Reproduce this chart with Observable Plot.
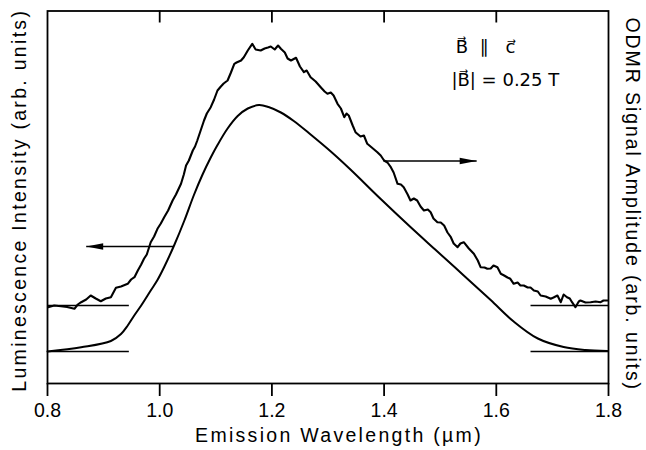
<!DOCTYPE html>
<html>
<head>
<meta charset="utf-8">
<script src="https://cdn.jsdelivr.net/npm/d3@7"></script>
<script src="https://cdn.jsdelivr.net/npm/@observablehq/plot@0.6"></script>
<style>
  html, body { margin: 0; padding: 0; background: #fff; }
  #chart svg { display: block; }
</style>
</head>
<body>
<div id="chart"></div>
<script>
// ---- data ----
const wavelengthTicks = [0.8, 1.0, 1.2, 1.4, 1.6, 1.8];

// Luminescence intensity (smooth curve), arb. units
const lumWavelength = [0.800, 0.860, 0.913, 0.931, 0.943, 0.954, 0.967, 0.984, 0.996, 1.008, 1.026, 1.044, 1.061, 1.076, 1.091, 1.103, 1.121, 1.139, 1.157, 1.177, 1.194, 1.216, 1.239, 1.269, 1.305, 1.340, 1.394, 1.447, 1.494, 1.542, 1.590, 1.631, 1.674, 1.720, 1.759, 1.798];
const lumIntensity = [0, 4.3, 10.5, 17.5, 26, 35.5, 46, 61, 71.5, 84.5, 106.5, 131, 156.5, 176.5, 194, 206.5, 223, 235.5, 243, 246.5, 244.5, 239, 230.5, 217, 200, 182, 152.5, 124.5, 100.5, 76, 51.5, 30, 13, 4.5, 1.5, 0.5];

// ODMR signal amplitude (noisy curve), arb. units
const odmrWavelength = [0.801, 0.812, 0.824, 0.835, 0.848, 0.854, 0.860, 0.869, 0.877, 0.886, 0.895, 0.904, 0.913, 0.922, 0.931, 0.943, 0.949, 0.955, 0.961, 0.967, 0.972, 0.977, 0.984, 0.990, 0.996, 1.002, 1.008, 1.015, 1.023, 1.029, 1.038, 1.043, 1.047, 1.052, 1.059, 1.063, 1.067, 1.073, 1.079, 1.084, 1.091, 1.097, 1.103, 1.109, 1.114, 1.121, 1.127, 1.133, 1.137, 1.145, 1.150, 1.157, 1.165, 1.171, 1.180, 1.187, 1.193, 1.198, 1.205, 1.211, 1.216, 1.223, 1.228, 1.234, 1.243, 1.250, 1.257, 1.262, 1.269, 1.278, 1.287, 1.294, 1.299, 1.305, 1.310, 1.317, 1.323, 1.329, 1.333, 1.337, 1.344, 1.349, 1.358, 1.364, 1.370, 1.378, 1.388, 1.394, 1.400, 1.406, 1.412, 1.417, 1.424, 1.430, 1.435, 1.442, 1.447, 1.453, 1.459, 1.465, 1.471, 1.478, 1.483, 1.488, 1.495, 1.501, 1.507, 1.513, 1.519, 1.524, 1.531, 1.536, 1.542, 1.551, 1.560, 1.567, 1.572, 1.579, 1.584, 1.590, 1.595, 1.602, 1.608, 1.614, 1.620, 1.625, 1.631, 1.638, 1.643, 1.649, 1.656, 1.661, 1.667, 1.674, 1.679, 1.688, 1.697, 1.702, 1.709, 1.715, 1.720, 1.726, 1.731, 1.735, 1.741, 1.747, 1.750, 1.759, 1.768, 1.777, 1.786, 1.791, 1.798];
const odmrSignal = [-1.7, 0, -0.7, -1.5, -3.3, 1, 3.3, 6, 10, 7, 4.3, 7, 8.3, 17.7, 19, 21.7, 26, 28.3, 35, 41, 46.7, 51, 63.3, 69, 76.7, 82, 88.3, 95, 105, 111, 121.7, 131, 140, 145, 155, 159, 165, 175, 185, 192, 198.3, 206, 215, 219, 222, 225, 233, 241.7, 243, 245, 248.3, 255, 261.7, 256, 255, 257, 258, 259, 256, 260, 256.7, 253, 247, 245, 247.7, 239, 233.3, 235, 228.3, 224, 218.3, 214, 211.7, 213, 210, 201.7, 197, 188.3, 192, 190, 180, 173.3, 169, 170, 161.7, 158, 153.3, 150, 145, 143, 138.3, 133, 121.7, 121, 118.3, 111, 105, 107, 105, 99, 95, 96, 93.3, 87, 83.3, 83, 80, 73, 68.3, 62, 58.3, 62, 63.3, 57, 51.7, 45, 38.3, 38, 36.7, 37, 40, 38.3, 31.7, 30, 28, 26.7, 21.7, 23, 20, 20, 18, 18, 15, 14, 10, 9, 6.7, 8, 10, 3.3, 11, 8.3, 7, 3.3, -1.7, 4, 5, 3, 3.3, 4, 3.3, 5, 5];

// baseline markers (start/end wavelengths of the short zero lines)
const baselineLeft = [0.8, 0.945];
const baselineRight = [1.661, 1.8];
// arrows: from/to wavelength, and level on the curve's own scale
const lumArrow = {from: 1.025, to: 0.869, level: 105};
const odmrArrow = {from: 1.399, to: 1.565, level: 144.5};

const annotationLines = ["B\u20D7\u00A0\u00A0\u2225\u00A0\u00A0\u00A0c\u20D7", "|B\u20D7| = 0.25 T"];
const annotationX = [1.5275, 1.52];
const annotationY = [304, 271];

const xLabel = "Emission Wavelength (µm)";
const yLabelLeft = "Luminescence Intensity (arb. units)";
const yLabelRight = "ODMR Signal Amplitude (arb. units)";

// ---- build ----
const odmrOffset = 46; // ODMR zero sits above the luminescence zero
const lum = lumWavelength.map((w, i) => ({w, v: lumIntensity[i]}));
const odmr = odmrWavelength.map((w, i) => ({w, v: odmrSignal[i] + odmrOffset}));
const notes = annotationLines.map((t, i) => ({t, x: annotationX[i], y: annotationY[i]}));

const yMin = -32, yMax = 340.5;
const baselines = [
  {x1: baselineLeft[0], x2: baselineLeft[1], y: 0},
  {x1: baselineRight[0], x2: baselineRight[1], y: 0},
  {x1: baselineLeft[0], x2: baselineLeft[1], y: odmrOffset},
  {x1: baselineRight[0], x2: baselineRight[1], y: odmrOffset}
];
const arrows = [
  {x1: lumArrow.from, x2: lumArrow.to, y: lumArrow.level, rot: 180},
  {x1: odmrArrow.from, x2: odmrArrow.to, y: odmrArrow.level + odmrOffset, rot: 0}
];
const headSymbol = {
  draw(ctx) {
    ctx.moveTo(0, 0);
    ctx.lineTo(-17, -3.3);
    ctx.lineTo(-17, 3.3);
    ctx.closePath();
  }
};

const font = "'Liberation Sans', Arial, sans-serif";

const chart = Plot.plot({
  width: 646,
  height: 450,
  marginLeft: 47,
  marginRight: 38,
  marginTop: 10.5,
  marginBottom: 67,
  style: {fontFamily: font, background: "#fff", color: "#000"},
  x: {domain: [0.8, 1.8]},
  y: {domain: [yMin, yMax], axis: null},
  marks: [
    Plot.frame({stroke: "#000", strokeWidth: 1.8}),
    Plot.axisX({
      ticks: wavelengthTicks,
      tickSize: 13,
      tickPadding: 7,
      tickFormat: d3.format(".1f"),
      fontSize: 19.5,
      strokeWidth: 1.8,
      label: null
    }),
    Plot.ruleX(wavelengthTicks.slice(1, -1), {y1: yMax, y2: yMax - 12, stroke: "#000", strokeWidth: 1.8}),
    Plot.link(baselines, {x1: "x1", x2: "x2", y1: "y", y2: "y", stroke: "#000", strokeWidth: 1.3}),
    Plot.line(lum, {x: "w", y: "v", curve: "catmull-rom", stroke: "#000", strokeWidth: 2}),
    Plot.line(odmr, {x: "w", y: "v", stroke: "#000", strokeWidth: 2.1, strokeLinejoin: "round"}),
    Plot.link(arrows, {x1: "x1", x2: "x2", y1: "y", y2: "y", stroke: "#000", strokeWidth: 1.3}),
    Plot.dot(arrows, {x: "x2", y: "y", rotate: "rot", symbol: headSymbol, fill: "#000", stroke: "none", r: 5}),
    Plot.text(notes, {x: "x", y: "y", text: "t", textAnchor: "start", fontSize: 18, fontFamily: "'DejaVu Sans', sans-serif"}),
    Plot.text([xLabel], {frameAnchor: "bottom", textAnchor: "middle", dx: 11, dy: 58, fontSize: 19.5, text: d => d}),
    Plot.text([yLabelLeft], {frameAnchor: "left", textAnchor: "middle", dx: -28, dy: 3, rotate: -90, fontSize: 19.5, text: d => d}),
    Plot.text([yLabelRight], {frameAnchor: "right", textAnchor: "middle", dx: 24, dy: 7, rotate: 90, fontSize: 19.5, text: d => d})
  ]
});
d3.select(chart).selectAll("text")
  .filter(function() { return [xLabel, yLabelLeft].includes(this.textContent); })
  .style("letter-spacing", "2.3px");
d3.select(chart).selectAll("text")
  .filter(function() { return this.textContent === yLabelRight; })
  .style("letter-spacing", "1.9px");
document.getElementById("chart").appendChild(chart);
</script>
</body>
</html>
